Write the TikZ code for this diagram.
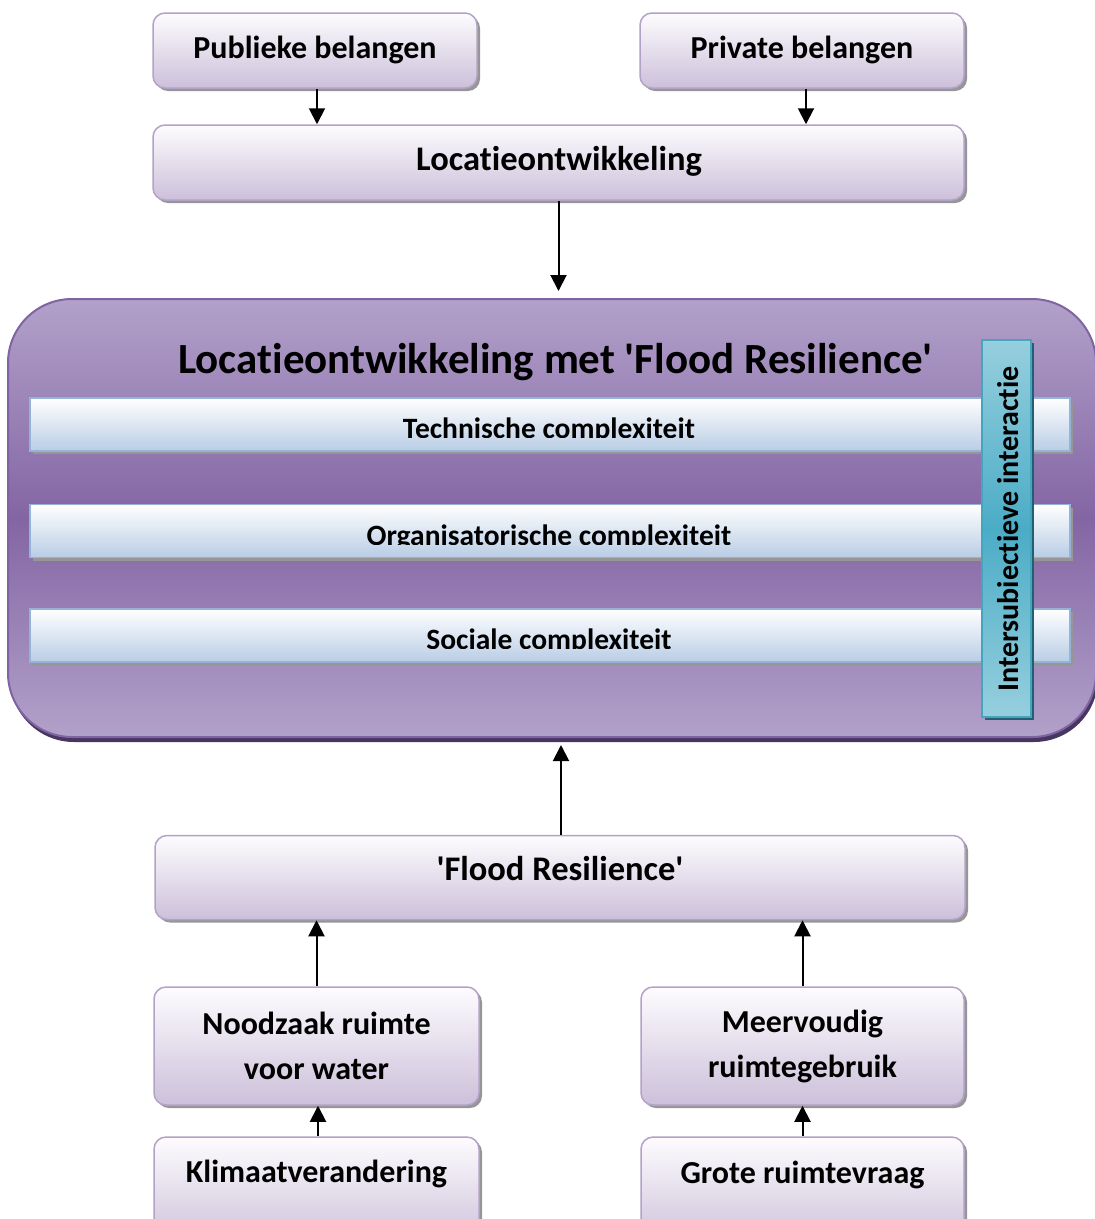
\documentclass[tikz,border=0pt]{standalone}
\usepackage{fontspec}
\setmainfont{Carlito}[Ligatures=NoCommon]
\usetikzlibrary{arrows.meta,shadows}
\definecolor{boxtop}{RGB}{253,252,254}
\definecolor{boxbot}{RGB}{204,192,218}
\definecolor{boxline}{RGB}{179,162,199}
\definecolor{bigtop}{RGB}{178,161,202}
\definecolor{bigmid}{RGB}{131,101,163}
\definecolor{bigline}{RGB}{128,100,162}
\definecolor{bigshadow}{RGB}{72,54,98}
\definecolor{bartop}{RGB}{255,255,255}
\definecolor{barbot}{RGB}{185,205,229}
\definecolor{barline}{RGB}{149,179,215}
\definecolor{vtop}{RGB}{150,207,222}
\definecolor{vmid}{RGB}{75,172,198}
\definecolor{vline}{RGB}{70,165,190}
\definecolor{vshadow}{RGB}{35,95,112}
\definecolor{shadowgray}{RGB}{150,150,150}
\begin{document}
\begin{tikzpicture}[x=1pt,y=-1pt,
  pbox/.style={draw=boxline, line width=1.5pt, rounded corners=12pt,
    top color=boxtop, bottom color=boxbot, inner sep=0pt,
    drop shadow={shadow xshift=3pt, shadow yshift=-3pt, fill=shadowgray, opacity=1}},
  bigbox/.style={draw=bigline, line width=2pt, rounded corners=64pt,
    top color=bigtop, bottom color=bigtop, middle color=bigmid, inner sep=0pt,
    drop shadow={shadow xshift=2pt, shadow yshift=-5pt, fill=bigshadow, opacity=1}},
  hbar/.style={draw=barline, line width=1.5pt, top color=bartop, bottom color=barbot,
    inner sep=0pt, minimum width=1040pt, minimum height=53pt,
    drop shadow={shadow xshift=3pt, shadow yshift=-3pt, fill=shadowgray, opacity=1}},
  vbar/.style={draw=vline, line width=1.5pt, top color=vtop, bottom color=vtop, middle color=vmid,
    inner sep=0pt, minimum width=49pt, minimum height=377pt,
    drop shadow={shadow xshift=3pt, shadow yshift=-3pt, fill=vshadow, opacity=1}},
  btext/.style={font=\bfseries\fontsize{32}{45}\selectfont, inner sep=0pt, anchor=base, align=center},
  bigtext/.style={font=\bfseries\fontsize{34.5}{40}\selectfont, inner sep=0pt, anchor=base},
  bartext/.style={font=\bfseries\fontsize{29.5}{34}\selectfont, inner sep=0pt, anchor=base},
  vtext/.style={font=\bfseries\fontsize{30}{34}\selectfont, inner sep=0pt, anchor=base},
  titletext/.style={font=\bfseries\fontsize{43}{48}\selectfont, inner sep=0pt, anchor=base},
  conn/.style={line width=2pt, -{Triangle[width=16pt,length=16pt]}}
]
\useasboundingbox (0,0) rectangle (1095,1219);
\clip (0,0) rectangle (1095,1219);

% top boxes
\node[pbox, minimum width=324pt, minimum height=75pt] (pub) at (315,50.5) {};
\node[btext] (pubt) at (315,58.5) {Publieke belangen};
\node[pbox, minimum width=324pt, minimum height=75pt] (priv) at (802,50.5) {};
\node[btext] (privt) at (802,58.5) {Private belangen};
\node[pbox, minimum width=811pt, minimum height=75pt] (loc) at (558.5,162.5) {};
\node[bigtext] (loct) at (559,170.5) {Locatieontwikkeling};

% big box
\node[bigbox, minimum width=1088pt, minimum height=438pt] (big) at (552,518) {};
\node[titletext] (title) at (555.5,373) {Locatieontwikkeling met \textquotesingle Flood Resilience\textquotesingle};

\node[hbar] (bar1) at (550,424.5) {};
\node[hbar] (bar2) at (550,531) {};
\node[hbar] (bar3) at (550,635.5) {};
\begin{scope}
  \clip (30,398) rectangle (1070,437);
  \node[bartext] (bar1t) at (549,438) {Technische complexiteit};
\end{scope}
\begin{scope}
  \clip (30,505) rectangle (1070,544);
  \node[bartext] (bar2t) at (549,545) {Organisatorische complexiteit};
\end{scope}
\begin{scope}
  \clip (30,609) rectangle (1070,648);
  \node[bartext] (bar3t) at (549,649) {Sociale complexiteit};
\end{scope}

\node[vbar] (inter) at (1006.5,528.5) {};
\node[vtext, rotate=90] (intert) at (1018,529) {Intersubiectieve interactie};

% bottom boxes
\node[pbox, minimum width=810pt, minimum height=84pt] (flood) at (560,877.5) {};
\node[bigtext] (floodt) at (560,880.5) {\textquotesingle Flood Resilience\textquotesingle};
\node[pbox, minimum width=325pt, minimum height=118pt] (nood) at (316.5,1046) {};
\node[btext] (noodt) at (316.5,1079) {Noodzaak ruimte\\voor water};
\node[pbox, minimum width=323pt, minimum height=118pt] (meer) at (802.5,1046) {};
\node[btext] (meert) at (802.5,1077.5) {Meervoudig\\ruimtegebruik};
\node[pbox, minimum width=325pt, minimum height=110pt] (klim) at (316.5,1192) {};
\node[btext] (klimt) at (316.5,1182) {Klimaatverandering};
\node[pbox, minimum width=323pt, minimum height=110pt] (grote) at (802.5,1192) {};
\node[btext] (grotet) at (802.5,1183) {Grote ruimtevraag};

% connectors
\draw[conn] ([xshift=2pt]pub.south) -- ([xshift=2pt]pub.south |- loc.north);
\draw[conn] ([xshift=4pt]priv.south) -- ([xshift=4pt]priv.south |- loc.north);
\draw[conn] (loc.south) -- ([yshift=7pt]loc.south |- big.north);
\draw[conn] ([xshift=1pt]flood.north) -- ([xshift=1pt,yshift=-7pt]flood.north |- big.south);
\draw[conn] (nood.north) -- (nood.north |- flood.south);
\draw[conn] ([xshift=1.5pt]klim.north) -- ([xshift=1.5pt]klim.north |- nood.south);
\draw[conn] (meer.north) -- (meer.north |- flood.south);
\draw[conn] (grote.north) -- (grote.north |- meer.south);
\end{tikzpicture}
\end{document}
